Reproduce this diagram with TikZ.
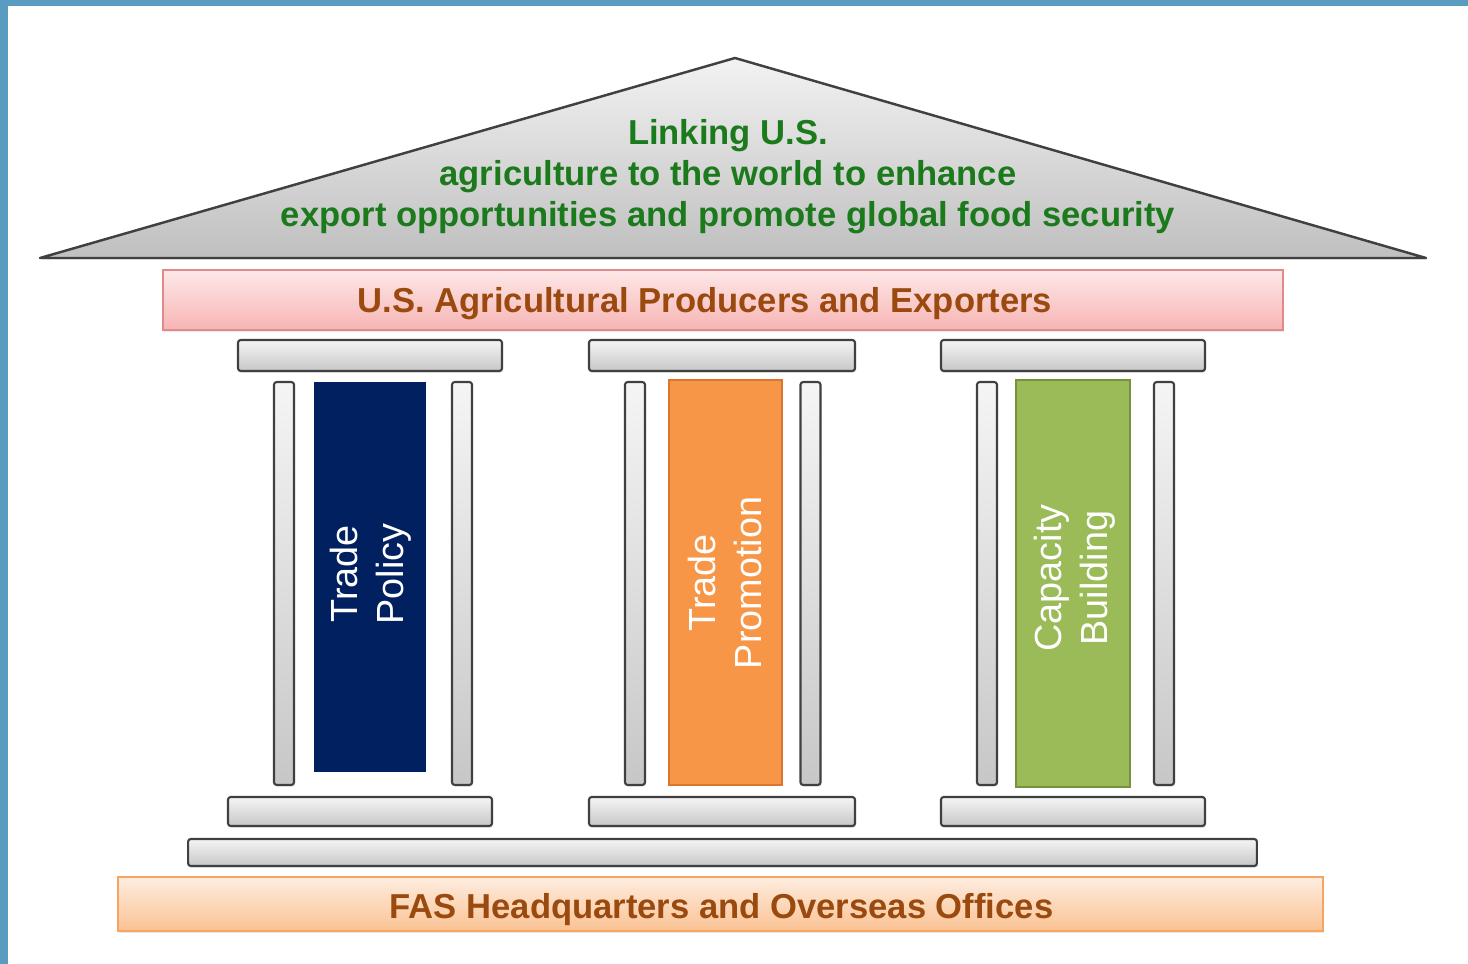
\documentclass[tikz,border=0pt]{standalone}
\usepackage{fontspec}
\setmainfont{Liberation Sans}
\usepackage{tikz}
\usetikzlibrary{shadows}

\definecolor{frameblue}{HTML}{5A9BC2}
\definecolor{roofgreen}{HTML}{1B7A1B}
\definecolor{barbrown}{HTML}{9A4A0E}
\definecolor{policyblue}{HTML}{002060}
\definecolor{promoorange}{HTML}{F79646}
\definecolor{promoedge}{HTML}{D9772F}
\definecolor{capgreen}{HTML}{9BBB59}
\definecolor{capedge}{HTML}{76923C}
\definecolor{pinktop}{HTML}{FDE8E8}
\definecolor{pinkbottom}{HTML}{F8B4B4}
\definecolor{pinkedge}{HTML}{E08A8A}
\definecolor{fastop}{HTML}{FEEDE0}
\definecolor{fasbottom}{HTML}{FBC293}
\definecolor{fasedge}{HTML}{F5A462}

\tikzset{
  slab/.style={draw=black!75, line width=1.2pt, rounded corners=1.5pt,
    top color=black!4, bottom color=black!22, inner sep=0pt,
    drop shadow={opacity=0.15, shadow xshift=0.6pt, shadow yshift=-1pt}},
  shaft/.style={slab, minimum width=0.4cm, minimum height=8.06cm},
  block/.style={inner sep=0pt, line width=1pt, text=white, rotate=90,
    align=center, font=\fontsize{21.5}{26}\selectfont},
  band/.style={line width=1pt, inner sep=0pt,
    drop shadow={opacity=0.18, shadow xshift=0.6pt, shadow yshift=-1.2pt}},
  bandtext/.style={text=barbrown, font=\fontsize{19.7}{23.3}\selectfont\bfseries}
}

\begin{document}
\begin{tikzpicture}[x=0.02cm, y=-0.02cm]
  \useasboundingbox (0,0) rectangle (1468,964);

  % Frame along the top and left edge
  \fill[frameblue] (0,0) rectangle (1468,6);
  \fill[frameblue] (0,0) rectangle (8,964);

  % Roof
  \coordinate (apex) at (735,58);
  \coordinate (eaveL) at (40,258);
  \coordinate (eaveR) at (1426,258);
  \draw[black!75, line width=1.4pt, line join=round, top color=black!5, bottom color=black!25,
    drop shadow={opacity=0.15, shadow xshift=0.6pt, shadow yshift=-1pt}]
    (eaveL) -- (apex) -- (eaveR) -- cycle;
  \node[text=roofgreen, align=center, font=\fontsize{19.7}{23.4}\selectfont\bfseries]
    (mission) at (728,177)
    {Linking U.S.\\agriculture to the world to enhance\\export opportunities and promote global food security};

  % Producers band
  \node[band, draw=pinkedge, top color=pinktop, bottom color=pinkbottom,
    minimum width=22.4cm, minimum height=1.2cm] (producers) at (723,300) {};
  \node[bandtext] (producerstext) at (705,304) {U.S. Agricultural Producers and Exporters};

  % Capitals
  \node[slab, minimum width=5.28cm, minimum height=0.62cm] (capPolicy) at (370,355.5) {};
  \node[slab, minimum width=5.32cm, minimum height=0.62cm] (capPromo) at (722,355.5) {};
  \node[slab, minimum width=5.28cm, minimum height=0.62cm] (capCapacity) at (1073,355.5) {};

  % Shafts
  \node[shaft] (shaftPolicyL) at (284,583.5) {};
  \node[shaft] (shaftPolicyR) at (462,583.5) {};
  \node[shaft] (shaftPromoL) at (635,583.5) {};
  \node[shaft] (shaftPromoR) at (810.5,583.5) {};
  \node[shaft] (shaftCapacityL) at (987,583.5) {};
  \node[shaft] (shaftCapacityR) at (1164,583.5) {};

  % Pillars
  \node[fill=policyblue, minimum width=2.24cm, minimum height=7.8cm, inner sep=0pt]
    (policy) at (370,577) {};
  \node[block] (policytext) at (371,574) {Trade\\Policy};
  \node[fill=promoorange, draw=promoedge, line width=1pt, minimum width=2.26cm,
    minimum height=8.1cm, inner sep=0pt] (promo) at (725.5,582.5) {};
  \node[block] (promotext) at (725,583) {Trade\\Promotion};
  \node[fill=capgreen, draw=capedge, line width=1pt, minimum width=2.28cm,
    minimum height=8.14cm, inner sep=0pt] (capacity) at (1073,583.5) {};
  \node[block] (capacitytext) at (1075,578) {Capacity\\Building};

  % Bases
  \node[slab, minimum width=5.28cm, minimum height=0.58cm] (basePolicy) at (360,811.5) {};
  \node[slab, minimum width=5.32cm, minimum height=0.58cm] (basePromo) at (722,811.5) {};
  \node[slab, minimum width=5.28cm, minimum height=0.58cm] (baseCapacity) at (1073,811.5) {};
  \node[slab, minimum width=21.38cm, minimum height=0.54cm] (plinth) at (722.5,852.5) {};

  % FAS band
  \node[band, draw=fasedge, top color=fastop, bottom color=fasbottom,
    minimum width=24.1cm, minimum height=1.08cm] (fas) at (720.5,904) {};
  \node[bandtext] (fastext) at (721.5,910) {FAS Headquarters and Overseas Offices};
\end{tikzpicture}
\end{document}
